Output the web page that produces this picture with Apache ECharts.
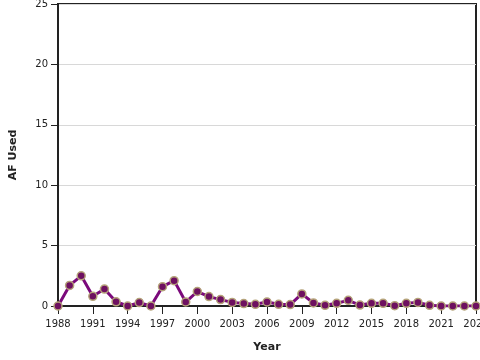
<!DOCTYPE html>
<html><head><meta charset="utf-8">
<script src="https://cdn.jsdelivr.net/npm/echarts@6/dist/echarts.min.js"></script>
<style>html,body{margin:0;padding:0;background:#fff}#c{width:480px;height:360px}</style>
</head><body><div id="c"></div>
<script>
const years = [1988,1989,1990,1991,1992,1993,1994,1995,1996,1997,1998,1999,2000,2001,2002,2003,2004,2005,2006,2007,2008,2009,2010,2011,2012,2013,2014,2015,2016,2017,2018,2019,2020,2021,2022,2023,2024];
const afUsed = [0,1.7,2.5,0.8,1.4,0.35,0,0.28,0,1.6,2.1,0.33,1.2,0.78,0.53,0.3,0.2,0.14,0.33,0.14,0.12,1.0,0.25,0.06,0.22,0.47,0.08,0.22,0.22,0.03,0.22,0.3,0.06,0,0,0,0];
const yTicks = [0,5,10,15,20,25];
const xTickYears = [1988,1991,1994,1997,2000,2003,2006,2009,2012,2015,2018,2021,2024];

const chart = echarts.init(document.getElementById('c'), null, {renderer:'canvas'});
const font = 'DejaVu Sans';
chart.setOption({
  animation:false,
  grid:{left:58,right:4,top:4,bottom:54,containLabel:false,outerBoundsMode:'none',show:true,borderColor:'#222',borderWidth:2,backgroundColor:'transparent'},
  xAxis:{
    type:'value', min:1988, max:2024, interval:3,
    name:'Year', nameLocation:'middle', nameGap:36,
    nameTextStyle:{fontFamily:font,fontWeight:'bold',fontSize:11,color:'#222'},
    axisLine:{show:true,onZero:false,lineStyle:{color:'#222',width:2}},
    axisTick:{show:true,length:8,lineStyle:{color:'#222',width:1}},
    axisLabel:{fontFamily:font,fontSize:10,color:'#222',margin:13,hideOverlap:false,showMaxLabel:true,
      formatter:v=>xTickYears.includes(v)?String(v):''},
    splitLine:{show:false}
  },
  yAxis:{
    type:'value', min:0, max:25, interval:5,
    name:'AF Used', nameLocation:'middle', nameGap:39,
    nameTextStyle:{fontFamily:font,fontWeight:'bold',fontSize:11,color:'#222'},
    axisLine:{show:true,lineStyle:{color:'#222',width:2}},
    axisTick:{show:true,length:7,lineStyle:{color:'#222',width:1}},
    axisLabel:{fontFamily:font,fontSize:10,color:'#222',margin:10,
      formatter:v=>yTicks.includes(v)?String(v):''},
    splitLine:{show:true,lineStyle:{color:'#d8d8d8',width:1}}
  },
  series:[{
    type:'line',
    data:years.map((y,i)=>[y,afUsed[i]]),
    lineStyle:{color:'#7b0a7b',width:3},
    symbol:'circle', symbolSize:8,
    itemStyle:{color:'#6e1060',borderColor:'#b5a37a',borderWidth:1.5},
    z:5
  }]
});
</script></body></html>
